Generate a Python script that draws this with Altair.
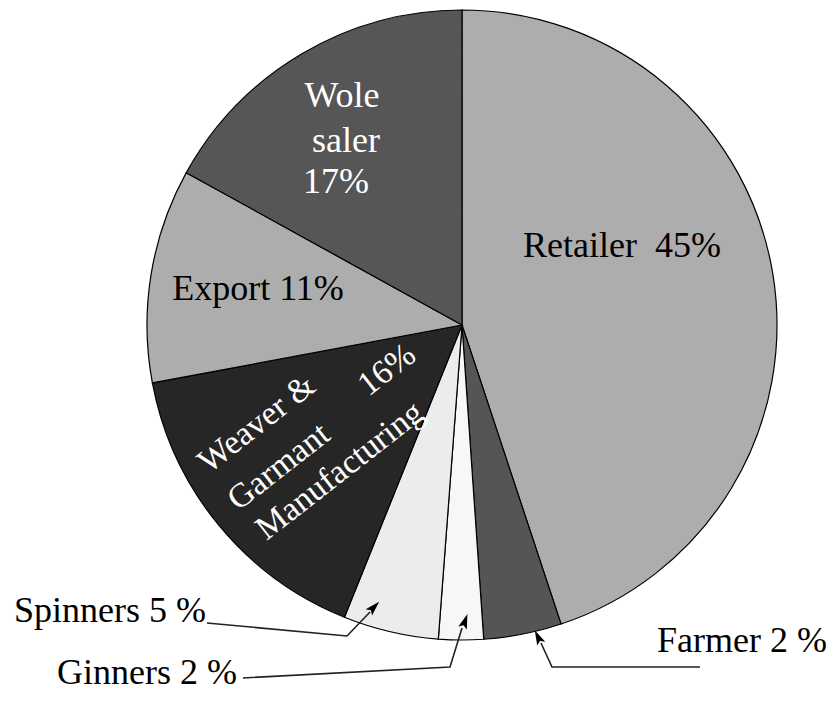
import altair as alt
import pandas as pd

# ---- data ----
categories = ["Retailer", "Farmer", "Ginners", "Spinners", "Weaver & Garmant Manufacturing", "Export", "Wole saler"]
shares = [45, 4, 2.3, 4.9, 16, 11, 17]
fills = ["#adadad", "#555555", "#f7f7f7", "#ececec", "#262626", "#adadad", "#565656"]

label_texts = ["Retailer\u00a0\u00a045%", "Export 11%", "Wole", "saler", "17%",
               "Spinners 5 %", "Ginners 2 %", "Farmer 2 %"]
rot_texts = ["Weaver &", "16%", "Garmant", "Manufacturing"]

# ---- layout (image pixel coords) ----
OFF = 8
CX, CY, R = 462, 325, 315
FONT = "'Liberation Serif', 'Times New Roman', 'DejaVu Serif', serif"
FS = 36

label_x = [622, 258, 342, 346, 336, 110, 147, 742]
label_y = [257, 300, 107, 152, 193, 622, 684, 652]
label_col = ["black", "black", "white", "white", "white", "black", "black", "black"]

rot_x = [257, 387, 279, 340]
rot_y = [424, 370, 467, 471]

# leader lines: (group, order, x, y)
leaders = [
    ("s", 0, 207, 623), ("s", 1, 347, 636), ("s", 2, 370, 612),
    ("g", 0, 243, 678), ("g", 1, 450, 667), ("g", 2, 462, 628),
    ("f", 0, 700, 667), ("f", 1, 552, 667), ("f", 2, 541, 643),
]
tips_x = [374, 465, 538]
tips_y = [607, 621, 637]
tips_ang = [44, 19, 334]

pie_df = pd.DataFrame({"cat": categories, "val": shares, "idx": list(range(len(categories)))})

pie = alt.Chart(pie_df).mark_arc(outerRadius=R, stroke="black", strokeWidth=1.2).encode(
    theta=alt.Theta("val:Q", stack=True),
    order=alt.Order("idx:Q"),
    color=alt.Color("cat:N", scale=alt.Scale(domain=categories, range=fills), legend=None),
    x=alt.value(CX - OFF),
    y=alt.value(CY - OFF),
)

lab_df = pd.DataFrame({"t": label_texts, "x": [v - OFF for v in label_x],
                       "y": [v - OFF for v in label_y], "c": label_col})
labels = alt.Chart(lab_df).mark_text(font=FONT, fontSize=FS, baseline="alphabetic", align="center").encode(
    x=alt.X("x:Q", scale=None, axis=None),
    y=alt.Y("y:Q", scale=None, axis=None),
    text="t:N",
    color=alt.Color("c:N", scale=None),
)

rot_df = pd.DataFrame({"t": rot_texts, "x": [v - OFF for v in rot_x], "y": [v - OFF for v in rot_y]})
rot = alt.Chart(rot_df).mark_text(font=FONT, fontSize=34, baseline="middle", align="center",
                                  angle=322, color="white").encode(
    x=alt.X("x:Q", scale=None, axis=None),
    y=alt.Y("y:Q", scale=None, axis=None),
    text="t:N",
)

lead_df = pd.DataFrame(leaders, columns=["g", "o", "x", "y"])
lead_df["x"] = lead_df["x"] - OFF
lead_df["y"] = lead_df["y"] - OFF
lines = alt.Chart(lead_df).mark_line(color="#222222", strokeWidth=1.6).encode(
    x=alt.X("x:Q", scale=None, axis=None),
    y=alt.Y("y:Q", scale=None, axis=None),
    detail="g:N",
    order="o:Q",
)

tip_df = pd.DataFrame({"x": [v - OFF for v in tips_x], "y": [v - OFF for v in tips_y], "a": tips_ang})
tips = alt.Chart(tip_df).mark_point(shape="M-0.6,1L0,-1L0.6,1L0,0.6Z", filled=True, color="black",
                                    size=220, opacity=1).encode(
    x=alt.X("x:Q", scale=None, axis=None),
    y=alt.Y("y:Q", scale=None, axis=None),
    angle=alt.Angle("a:Q", scale=None),
)

chart = alt.layer(pie, lines, tips, labels, rot).properties(
    width=821, height=685, padding=0, autosize=alt.AutoSizeParams(type="none"), background="white"
).configure_view(stroke=None)

chart.save("out.html", embed_options={"renderer": "svg", "actions": False})
